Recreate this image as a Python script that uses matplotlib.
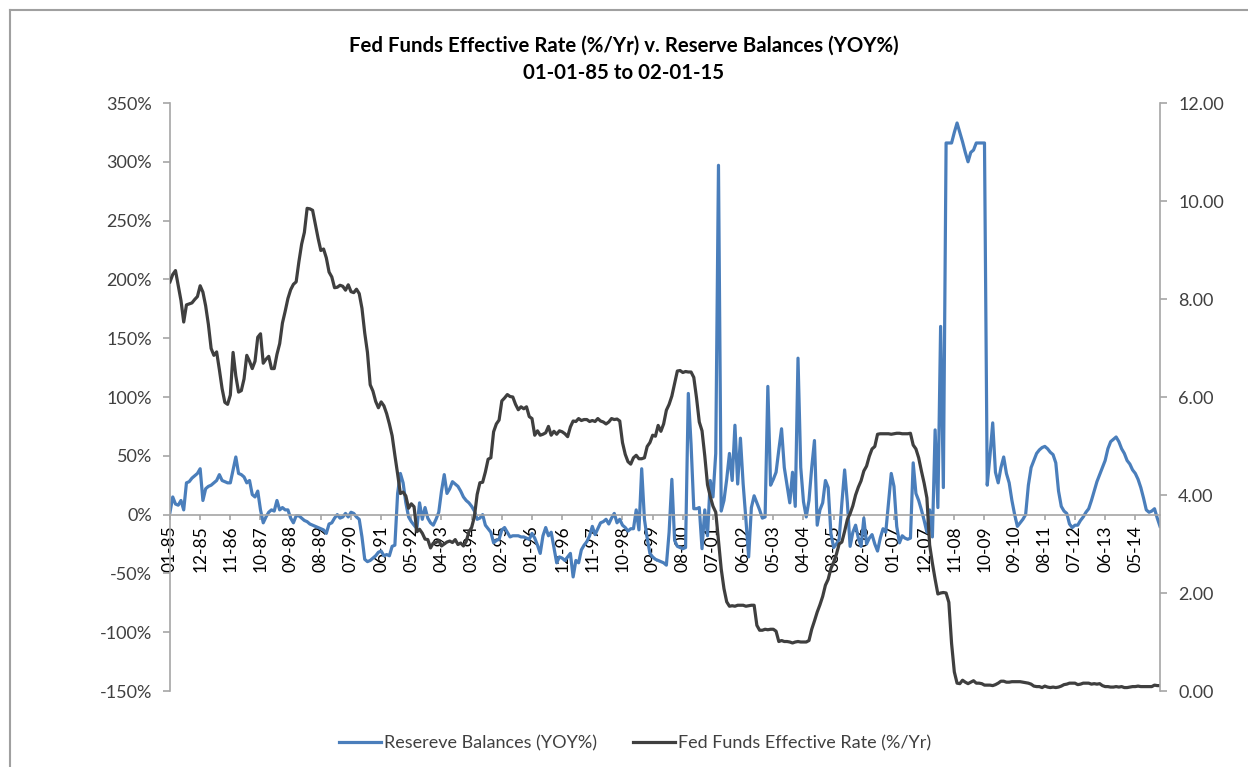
import matplotlib.pyplot as plt
from matplotlib.lines import Line2D
from matplotlib.ticker import MultipleLocator, FuncFormatter

plt.rcParams['font.family'] = ['Lato', 'DejaVu Sans']

# monthly series, Jan 1985 .. Feb 2015
reserves_pct = (
    [2, 15, 9, 8, 12, 4, 27, 28, 31, 33, 35, 39]            # 1985
    + [12, 22, 24, 25, 27, 29, 34, 29, 28, 27, 27, 38]      # 1986
    + [49, 35, 34, 32, 27, 29, 17, 15, 20, 4, -7, -2]       # 1987
    + [2, 4, 3, 12, 4, 6, 4, 4, -3, -7, -1, -1]             # 1988
    + [-3, -5, -6, -8, -9, -10, -11, -12, -13, -16, -8, -7]  # 1989
    + [-3, 0, -3, -2, 1, -2, 2, 1, -2, -4, -19, -38]        # 1990
    + [-40, -39, -37, -35, -32, -31, -35, -34, -35, -27, -26, 18]  # 1991
    + [35, 27, 10, -2, -6, -9, -12, 10, -4, 6, -3, -7]      # 1992
    + [-9, -4, 2, 20, 34, 18, 22, 28, 26, 24, 20, 15]       # 1993
    + [12, 10, 7, 3, -4, -3, 0, -9, -12, -15, -24, -22]     # 1994
    + [-21, -13, -11, -15, -19, -18, -18, -18, -19, -19, -20, -21]  # 1995
    + [-16, -20, -26, -33, -18, -11, -18, -15, -28, -41, -36, -37]  # 1996
    + [-39, -36, -33, -53, -39, -41, -30, -26, -23, -18, -10, -17]  # 1997
    + [-12, -7, -6, -4, -8, -3, 1, -7, -4, -9, -11, -14]    # 1998
    + [-12, -12, 4, -13, 39, -4, -20, -33, -36, -38, -39, -40]  # 1999
    + [-41, -43, -15, 30, -22, -27, -28, -29, -28, 103, 60, 5]  # 2000
    + [5, 6, -29, 4, -18, 29, 15, 52, 297, 3, 12, 30]       # 2001
    + [52, 29, 76, 26, 65, 26, -4, -36, 6, 16, 10, 4]       # 2002
    + [-3, -2, 109, 25, 30, 36, 55, 73, 40, 25, 10, 36]     # 2003
    + [7, 133, 40, 11, -2, 12, 40, 63, -9, 4, 10, 29]       # 2004
    + [23, -16, -28, -25, -21, 10, 38, 10, -27, -15, -9, -20]  # 2005
    + [-27, -3, -25, -20, -17, -25, -31, -20, -12, -15, 10, 35]  # 2006
    + [24, -10, -24, -18, -20, -21, -20, 44, 18, 12, 4, -5]  # 2007
    + [-15, 4, -19, 72, 6, 160, 23, 316, 316, 316, 325, 333]  # 2008
    + [325, 317, 308, 300, 308, 310, 316, 316, 316, 316, 25, 50]  # 2009
    + [78, 36, 27, 40, 49, 35, 27, 12, 0, -10, -7, -4]      # 2010
    + [0, 25, 40, 46, 52, 55, 57, 58, 56, 53, 51, 44]       # 2011
    + [20, 7, 3, 1, -8, -11, -9, -9, -5, -2, 2, 5]          # 2012
    + [12, 20, 28, 34, 40, 46, 56, 62, 64, 66, 62, 56]      # 2013
    + [52, 46, 43, 38, 35, 30, 23, 14, 4, 2, 3, 5]          # 2014
    + [-3, -10]                                             # 2015
)

fed_funds = (
    [8.35, 8.50, 8.58, 8.27, 7.97, 7.53, 7.88, 7.90, 7.92, 7.99, 8.05, 8.27]
    + [8.14, 7.86, 7.48, 6.99, 6.85, 6.92, 6.56, 6.17, 5.89, 5.85, 6.04, 6.91]
    + [6.43, 6.10, 6.13, 6.37, 6.85, 6.73, 6.58, 6.73, 7.22, 7.29, 6.69, 6.77]
    + [6.83, 6.58, 6.58, 6.87, 7.09, 7.51, 7.75, 8.01, 8.19, 8.30, 8.35, 8.76]
    + [9.12, 9.36, 9.85, 9.84, 9.81, 9.53, 9.24, 8.99, 9.02, 8.84, 8.55, 8.45]
    + [8.23, 8.24, 8.28, 8.26, 8.18, 8.29, 8.15, 8.13, 8.20, 8.11, 7.81, 7.31]
    + [6.91, 6.25, 6.12, 5.91, 5.78, 5.90, 5.82, 5.66, 5.45, 5.21, 4.81, 4.43]
    + [4.03, 4.06, 3.98, 3.73, 3.82, 3.76, 3.25, 3.30, 3.22, 3.10, 3.09, 2.92]
    + [3.02, 3.03, 3.07, 2.96, 3.00, 3.04, 3.06, 3.03, 3.09, 2.99, 3.02, 2.96]
    + [3.05, 3.25, 3.34, 3.56, 4.01, 4.25, 4.26, 4.47, 4.73, 4.76, 5.29, 5.45]
    + [5.53, 5.92, 5.98, 6.05, 6.01, 6.00, 5.85, 5.74, 5.80, 5.76, 5.80, 5.60]
    + [5.56, 5.22, 5.31, 5.22, 5.24, 5.27, 5.40, 5.22, 5.30, 5.24, 5.31, 5.29]
    + [5.25, 5.19, 5.39, 5.51, 5.50, 5.56, 5.52, 5.54, 5.54, 5.50, 5.52, 5.50]
    + [5.56, 5.51, 5.49, 5.45, 5.49, 5.56, 5.54, 5.55, 5.51, 5.07, 4.83, 4.68]
    + [4.63, 4.76, 4.81, 4.74, 4.74, 4.76, 4.99, 5.07, 5.22, 5.20, 5.42, 5.30]
    + [5.45, 5.73, 5.85, 6.02, 6.27, 6.53, 6.54, 6.50, 6.52, 6.51, 6.51, 6.40]
    + [5.98, 5.49, 5.31, 4.80, 4.21, 3.97, 3.77, 3.65, 3.07, 2.49, 2.09, 1.82]
    + [1.73, 1.74, 1.73, 1.75, 1.75, 1.75, 1.73, 1.74, 1.75, 1.75, 1.34, 1.24]
    + [1.24, 1.26, 1.25, 1.26, 1.26, 1.22, 1.01, 1.03, 1.01, 1.01, 1.00, 0.98]
    + [1.00, 1.01, 1.00, 1.00, 1.00, 1.03, 1.26, 1.43, 1.61, 1.76, 1.93, 2.16]
    + [2.28, 2.50, 2.63, 2.79, 3.00, 3.04, 3.26, 3.50, 3.62, 3.78, 4.00, 4.16]
    + [4.29, 4.49, 4.59, 4.79, 4.94, 4.99, 5.24, 5.25, 5.25, 5.25, 5.25, 5.24]
    + [5.25, 5.26, 5.26, 5.25, 5.25, 5.25, 5.26, 5.02, 4.94, 4.76, 4.49, 4.24]
    + [3.94, 2.98, 2.61, 2.28, 1.98, 2.00, 2.01, 2.00, 1.81, 0.97, 0.39, 0.16]
    + [0.15, 0.22, 0.18, 0.15, 0.18, 0.21, 0.16, 0.16, 0.15, 0.12, 0.12, 0.12]
    + [0.11, 0.13, 0.16, 0.20, 0.20, 0.18, 0.18, 0.19, 0.19, 0.19, 0.19, 0.18]
    + [0.17, 0.16, 0.14, 0.10, 0.09, 0.09, 0.07, 0.10, 0.08, 0.07, 0.08, 0.07]
    + [0.08, 0.10, 0.13, 0.14, 0.16, 0.16, 0.16, 0.13, 0.14, 0.16, 0.16, 0.16]
    + [0.14, 0.15, 0.14, 0.15, 0.11, 0.09, 0.09, 0.08, 0.08, 0.09, 0.08, 0.09]
    + [0.07, 0.07, 0.08, 0.09, 0.09, 0.10, 0.09, 0.09, 0.09, 0.09, 0.09, 0.12]
    + [0.11, 0.11]
)

# category labels MM-YY
months = ['%02d-%02d' % (m, y % 100) for y in range(1985, 2016) for m in range(1, 13)][:len(fed_funds)]
x = list(range(len(months)))
tick_pos = x[::11]
tick_lab = [months[i] for i in tick_pos]

blue = '#4a7ebb'
dark = '#3f3f3f'
axis_gray = '#a6a6a6'
text_col = '#404040'

fig = plt.figure(figsize=(12.48, 7.67), dpi=100)
ax = fig.add_axes([170 / 1248, 1 - 691 / 767, 990 / 1248, 588 / 767])
ax2 = ax.twinx()

ax.plot(x, reserves_pct, color=blue, lw=2.3, solid_joinstyle='round')
ax2.plot(x, fed_funds, color=dark, lw=2.3, solid_joinstyle='round')

ax.set_xlim(0, len(x) - 1)
ax.set_ylim(-150, 350)
ax2.set_ylim(0, 12)

ax.yaxis.set_major_locator(MultipleLocator(50))
ax.yaxis.set_major_formatter(FuncFormatter(lambda v, p: '%d%%' % v))
ax2.yaxis.set_major_locator(MultipleLocator(2))
ax2.yaxis.set_major_formatter(FuncFormatter(lambda v, p: '%.2f' % v))

ax.set_xticks(tick_pos)
ax.set_xticklabels(tick_lab)

for s in ['top', 'right']:
    ax.spines[s].set_visible(False)
for s in ['top', 'left', 'bottom']:
    ax2.spines[s].set_visible(False)
ax.spines['bottom'].set_position(('data', 0))
ax.spines['bottom'].set_color(axis_gray)
ax.spines['left'].set_color(axis_gray)
ax2.spines['right'].set_color(axis_gray)
for sp in [ax.spines['bottom'], ax.spines['left'], ax2.spines['right']]:
    sp.set_linewidth(1.2)

ax.tick_params(axis='y', length=5, width=1.2, color=axis_gray, labelsize=13,
               labelcolor=text_col, pad=8)
ax.tick_params(axis='x', length=3.6, width=1.2, color=axis_gray, labelsize=12.5,
               labelcolor='#000000', pad=4, labelrotation=90)
ax2.tick_params(axis='y', length=5, width=1.2, color=axis_gray, labelsize=13,
                labelcolor=text_col, pad=8)

fig.text(0.5, 1 - 46 / 767, 'Fed Funds Effective Rate (%/Yr) v. Reserve Balances (YOY%)',
         ha='center', va='center', fontsize=14.7, fontweight='bold', color='#000000')
fig.text(0.5, 1 - 73 / 767, '01-01-85 to 02-01-15',
         ha='center', va='center', fontsize=14.7, fontweight='bold', color='#000000')

handles = [Line2D([], [], color=blue, lw=2.3), Line2D([], [], color=dark, lw=2.3)]
fig.legend(handles, ['Resereve Balances (YOY%)', 'Fed Funds Effective Rate (%/Yr)'],
           loc='center', bbox_to_anchor=(0.509, 1 - 743 / 767), ncol=2, frameon=False,
           fontsize=13, handlelength=2.3, handletextpad=0.2, columnspacing=2.0,
           labelcolor=text_col)

# chart frame (left and top edges visible in the reference)
fig.add_artist(Line2D([10 / 1248, 10 / 1248], [0, 1 - 10 / 767], transform=fig.transFigure,
                      color='#a0a0a0', lw=1.5))
fig.add_artist(Line2D([10 / 1248, 1], [1 - 10 / 767, 1 - 10 / 767], transform=fig.transFigure,
                      color='#a0a0a0', lw=1.5))

fig.savefig('out.png', dpi=100)
